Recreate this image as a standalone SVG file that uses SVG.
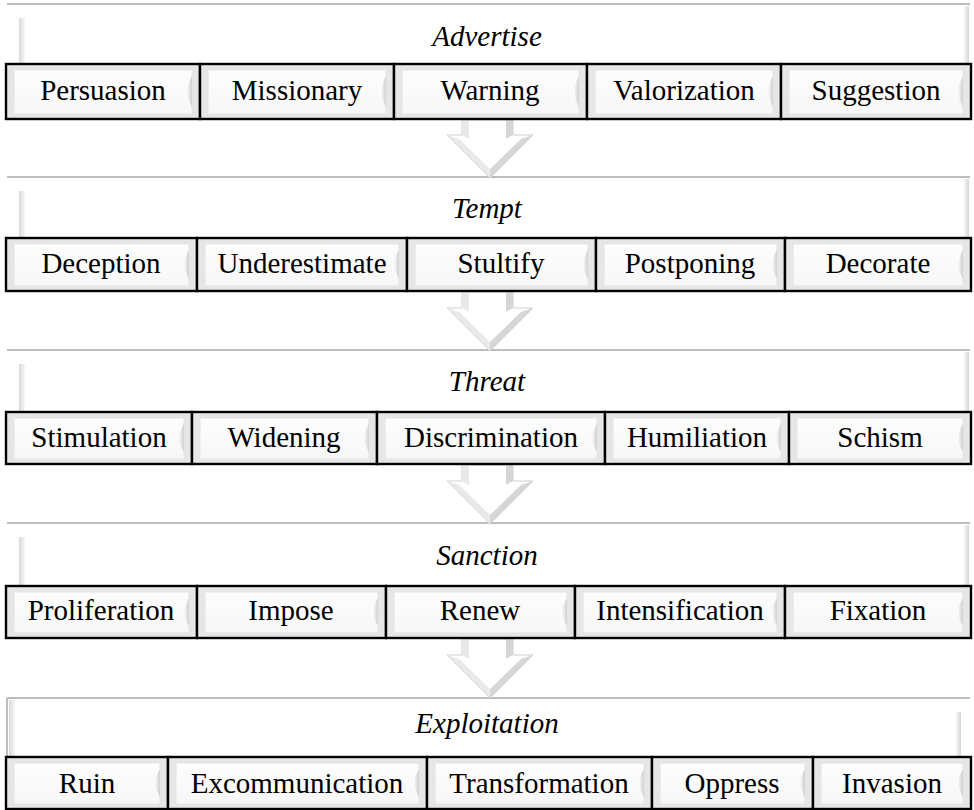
<svg xmlns="http://www.w3.org/2000/svg" width="974" height="810" viewBox="0 0 974 810">
<defs>
<linearGradient id="gLeft" x1="0" y1="0" x2="1" y2="0"><stop offset="0" stop-color="#d9d9d9"/><stop offset="1" stop-color="#f7f7f7"/></linearGradient>
<linearGradient id="gRight" x1="0" y1="0" x2="1" y2="0"><stop offset="0" stop-color="#ffffff"/><stop offset="1" stop-color="#d6d6d6"/></linearGradient>
<linearGradient id="gLens" x1="0" y1="0" x2="1" y2="0"><stop offset="0" stop-color="#f4f4f4"/><stop offset="1" stop-color="#d0d0d0"/></linearGradient>
<linearGradient id="gFace" x1="0" y1="0" x2="0" y2="1"><stop offset="0" stop-color="#fdfdfd"/><stop offset="1" stop-color="#f7f7f7"/></linearGradient>
</defs>
<style>
.bg{fill:#ffffff}
.hline{stroke:#bdbdbd;stroke-width:2;fill:none}
.hl{fill:url(#gLeft)}
.hr{fill:url(#gRight)}
.box{fill:#e6e6e6;stroke:#000;stroke-width:2.4}
.face{fill:url(#gFace);stroke:#e4e4e4;stroke-width:1}
.lens{fill:url(#gLens)}
text{font-family:'Liberation Serif','DejaVu Serif',serif}
.lbl{font-size:29px;fill:#000;text-anchor:middle}
.ttl{font-size:29px;font-style:italic;fill:#000;text-anchor:middle}
.arw{fill:#ffffff;stroke:#cfcfcf;stroke-width:1}
.af1{fill:#e9e9e9}
.af2{fill:#d6d6d6}
</style>
<rect class="bg" x="0" y="0" width="974" height="810"/>

<g id="h-advertise">
<line class="hline" x1="7" y1="4" x2="970" y2="4"/>
<rect class="hl" x="19" y="18" width="6" height="46"/>
<rect class="hr" x="963" y="6" width="6" height="58"/>
<text class="ttl" x="487" y="46">Advertise</text>
</g>
<g id="h-tempt">
<line class="hline" x1="7" y1="177" x2="970" y2="177"/>
<rect class="hl" x="19" y="191" width="6" height="47"/>
<rect class="hr" x="963" y="179" width="6" height="59"/>
<text class="ttl" x="487" y="218">Tempt</text>
</g>
<g id="h-threat">
<line class="hline" x1="7" y1="350" x2="970" y2="350"/>
<rect class="hl" x="19" y="364" width="6" height="48"/>
<rect class="hr" x="963" y="352" width="6" height="60"/>
<text class="ttl" x="487" y="391">Threat</text>
</g>
<g id="h-sanction">
<line class="hline" x1="7" y1="523" x2="970" y2="523"/>
<rect class="hl" x="19" y="537" width="6" height="49"/>
<rect class="hr" x="963" y="525" width="6" height="61"/>
<text class="ttl" x="487" y="565">Sanction</text>
</g>
<g id="h-exploitation">
<line class="hline" x1="7" y1="698" x2="970" y2="698"/>
<line class="hline" x1="7" y1="698" x2="7" y2="757"/>
<rect class="hl" x="9" y="700" width="6" height="57"/>
<rect class="hr" x="955" y="712" width="6" height="45"/>
<text class="ttl" x="487" y="733">Exploitation</text>
</g>

<g id="connectors">
<g id="c1"><polygon class="arw" points="462,120 513,120 513,135 533,135 490,178 447,135 462,135"/><polygon class="af1" points="462,120 469,120 469,139 462,135"/><polygon class="af2" points="506,120 513,120 513,135 506,139"/><polygon class="af1" points="447,135 490,178 490,169 459,139"/><polygon class="af2" points="533,135 490,178 490,169 521,139"/></g>
<g id="c2"><polygon class="arw" points="462,292 513,292 513,308 533,308 490,351 447,308 462,308"/><polygon class="af1" points="462,292 469,292 469,312 462,308"/><polygon class="af2" points="506,292 513,292 513,308 506,312"/><polygon class="af1" points="447,308 490,351 490,342 459,312"/><polygon class="af2" points="533,308 490,351 490,342 521,312"/></g>
<g id="c3"><polygon class="arw" points="462,465 513,465 513,481 533,481 490,524 447,481 462,481"/><polygon class="af1" points="462,465 469,465 469,485 462,481"/><polygon class="af2" points="506,465 513,465 513,481 506,485"/><polygon class="af1" points="447,481 490,524 490,515 459,485"/><polygon class="af2" points="533,481 490,524 490,515 521,485"/></g>
<g id="c4"><polygon class="arw" points="462,639 513,639 513,655 533,655 490,698 447,655 462,655"/><polygon class="af1" points="462,639 469,639 469,659 462,655"/><polygon class="af2" points="506,639 513,639 513,655 506,659"/><polygon class="af1" points="447,655 490,698 490,689 459,659"/><polygon class="af2" points="533,655 490,698 490,689 521,659"/></g>
</g>

<g id="n-persuasion"><rect class="box" x="6" y="64" width="194" height="55"/><rect class="face" x="14" y="70" width="178" height="44"/><path class="lens" d="M192,76 Q183,91.5 192,107 Z"/><text class="lbl" x="103" y="100">Persuasion</text></g>
<g id="n-missionary"><rect class="box" x="200" y="64" width="194" height="55"/><rect class="face" x="208" y="70" width="178" height="44"/><path class="lens" d="M386,76 Q377,91.5 386,107 Z"/><text class="lbl" x="297" y="100">Missionary</text></g>
<g id="n-warning"><rect class="box" x="394" y="64" width="193" height="55"/><rect class="face" x="402" y="70" width="177" height="44"/><path class="lens" d="M579,76 Q570,91.5 579,107 Z"/><text class="lbl" x="490" y="100">Warning</text></g>
<g id="n-valorization"><rect class="box" x="587" y="64" width="194" height="55"/><rect class="face" x="595" y="70" width="178" height="44"/><path class="lens" d="M773,76 Q764,91.5 773,107 Z"/><text class="lbl" x="684" y="100">Valorization</text></g>
<g id="n-suggestion"><rect class="box" x="781" y="64" width="190" height="55"/><rect class="face" x="789" y="70" width="174" height="44"/><path class="lens" d="M963,76 Q954,91.5 963,107 Z"/><text class="lbl" x="876" y="100">Suggestion</text></g>

<g id="n-deception"><rect class="box" x="6" y="238" width="191" height="53"/><rect class="face" x="14" y="244" width="175" height="42"/><path class="lens" d="M189,250 Q180,264.5 189,279 Z"/><text class="lbl" x="101" y="273">Deception</text></g>
<g id="n-underestimate"><rect class="box" x="197" y="238" width="210" height="53"/><rect class="face" x="205" y="244" width="194" height="42"/><path class="lens" d="M399,250 Q390,264.5 399,279 Z"/><text class="lbl" x="302" y="273">Underestimate</text></g>
<g id="n-stultify"><rect class="box" x="407" y="238" width="189" height="53"/><rect class="face" x="415" y="244" width="173" height="42"/><path class="lens" d="M588,250 Q579,264.5 588,279 Z"/><text class="lbl" x="501" y="273">Stultify</text></g>
<g id="n-postponing"><rect class="box" x="596" y="238" width="189" height="53"/><rect class="face" x="604" y="244" width="173" height="42"/><path class="lens" d="M777,250 Q768,264.5 777,279 Z"/><text class="lbl" x="690" y="273">Postponing</text></g>
<g id="n-decorate"><rect class="box" x="785" y="238" width="186" height="53"/><rect class="face" x="793" y="244" width="170" height="42"/><path class="lens" d="M963,250 Q954,264.5 963,279 Z"/><text class="lbl" x="878" y="273">Decorate</text></g>

<g id="n-stimulation"><rect class="box" x="6" y="412" width="186" height="52"/><rect class="face" x="14" y="418" width="170" height="41"/><path class="lens" d="M184,424 Q175,438 184,452 Z"/><text class="lbl" x="99" y="447">Stimulation</text></g>
<g id="n-widening"><rect class="box" x="192" y="412" width="185" height="52"/><rect class="face" x="200" y="418" width="169" height="41"/><path class="lens" d="M369,424 Q360,438 369,452 Z"/><text class="lbl" x="284" y="447">Widening</text></g>
<g id="n-discrimination"><rect class="box" x="377" y="412" width="228" height="52"/><rect class="face" x="385" y="418" width="212" height="41"/><path class="lens" d="M597,424 Q588,438 597,452 Z"/><text class="lbl" x="491" y="447">Discrimination</text></g>
<g id="n-humiliation"><rect class="box" x="605" y="412" width="184" height="52"/><rect class="face" x="613" y="418" width="168" height="41"/><path class="lens" d="M781,424 Q772,438 781,452 Z"/><text class="lbl" x="697" y="447">Humiliation</text></g>
<g id="n-schism"><rect class="box" x="789" y="412" width="182" height="52"/><rect class="face" x="797" y="418" width="166" height="41"/><path class="lens" d="M963,424 Q954,438 963,452 Z"/><text class="lbl" x="880" y="447">Schism</text></g>

<g id="n-proliferation"><rect class="box" x="6" y="586" width="191" height="52"/><rect class="face" x="14" y="592" width="175" height="41"/><path class="lens" d="M189,598 Q180,612 189,626 Z"/><text class="lbl" x="101" y="620">Proliferation</text></g>
<g id="n-impose"><rect class="box" x="197" y="586" width="189" height="52"/><rect class="face" x="205" y="592" width="173" height="41"/><path class="lens" d="M378,598 Q369,612 378,626 Z"/><text class="lbl" x="291" y="620">Impose</text></g>
<g id="n-renew"><rect class="box" x="386" y="586" width="189" height="52"/><rect class="face" x="394" y="592" width="173" height="41"/><path class="lens" d="M567,598 Q558,612 567,626 Z"/><text class="lbl" x="480" y="620">Renew</text></g>
<g id="n-intensification"><rect class="box" x="575" y="586" width="210" height="52"/><rect class="face" x="583" y="592" width="194" height="41"/><path class="lens" d="M777,598 Q768,612 777,626 Z"/><text class="lbl" x="680" y="620">Intensification</text></g>
<g id="n-fixation"><rect class="box" x="785" y="586" width="186" height="52"/><rect class="face" x="793" y="592" width="170" height="41"/><path class="lens" d="M963,598 Q954,612 963,626 Z"/><text class="lbl" x="878" y="620">Fixation</text></g>

<g id="n-ruin"><rect class="box" x="6" y="757" width="162" height="52"/><rect class="face" x="14" y="763" width="146" height="41"/><path class="lens" d="M160,769 Q151,783 160,797 Z"/><text class="lbl" x="87" y="793">Ruin</text></g>
<g id="n-excommunication"><rect class="box" x="168" y="757" width="259" height="52"/><rect class="face" x="176" y="763" width="243" height="41"/><path class="lens" d="M419,769 Q410,783 419,797 Z"/><text class="lbl" x="297" y="793">Excommunication</text></g>
<g id="n-transformation"><rect class="box" x="427" y="757" width="225" height="52"/><rect class="face" x="435" y="763" width="209" height="41"/><path class="lens" d="M644,769 Q635,783 644,797 Z"/><text class="lbl" x="539" y="793">Transformation</text></g>
<g id="n-oppress"><rect class="box" x="652" y="757" width="161" height="52"/><rect class="face" x="660" y="763" width="145" height="41"/><path class="lens" d="M805,769 Q796,783 805,797 Z"/><text class="lbl" x="732" y="793">Oppress</text></g>
<g id="n-invasion"><rect class="box" x="813" y="757" width="158" height="52"/><rect class="face" x="821" y="763" width="142" height="41"/><path class="lens" d="M963,769 Q954,783 963,797 Z"/><text class="lbl" x="892" y="793">Invasion</text></g>
</svg>
